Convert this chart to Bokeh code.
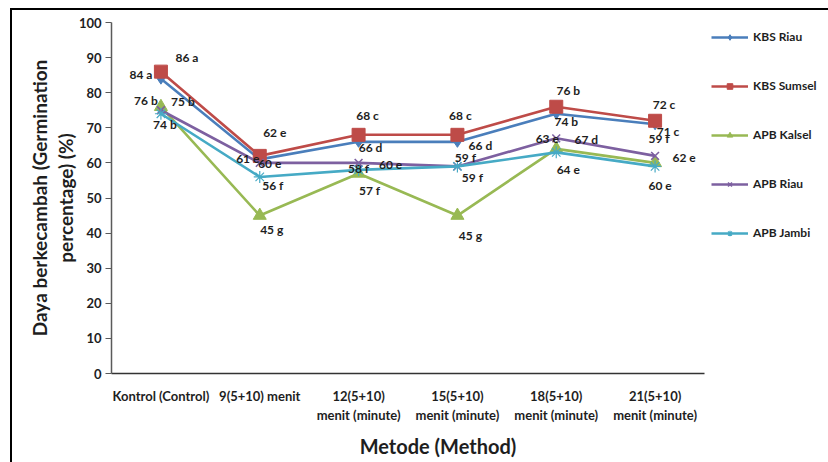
from bokeh.plotting import figure
from bokeh.models import (Range1d, Legend, LegendItem, ColumnDataSource, FixedTicker,
                          LinearAxis)
from bokeh.embed import file_html
from bokeh.resources import INLINE
from bokeh.core.properties import value

# ---------------- data ----------------
categories = ["Kontrol (Control)", "9(5+10) menit", "12(5+10)\nmenit (minute)",
              "15(5+10)\nmenit (minute)", "18(5+10)\nmenit (minute)", "21(5+10)\nmenit (minute)"]
series_names = ["KBS Riau", "KBS Sumsel", "APB Kalsel", "APB Riau", "APB Jambi"]

kbs_riau = [84, 61, 66, 66, 74, 71]
kbs_riau_letters = ["a", "e", "d", "d", "b", "c"]
kbs_sumsel = [86, 62, 68, 68, 76, 72]
kbs_sumsel_letters = ["a", "e", "c", "c", "b", "c"]
apb_kalsel = [76, 45, 57, 45, 64, 60]
apb_kalsel_letters = ["b", "g", "f", "g", "e", "e"]
apb_riau = [75, 60, 60, 59, 67, 62]
apb_riau_letters = ["b", "e", "e", "f", "d", "e"]
apb_jambi = [74, 56, 58, 59, 63, 59]
apb_jambi_letters = ["b", "f", "f", "f", "e", "f"]

y_ticks = [0, 10, 20, 30, 40, 50, 60, 70, 80, 90, 100]
y_title_line1 = "Daya berkecambah (Germination"
y_title_line2 = "percentage) (%)"
x_title = "Metode (Method)"

# ---------------- styles / placement ----------------
FONT = "Lato"
TXT = "#1e1e1e"
colors = ["#4A7EBB", "#BE4B48", "#98B954", "#7D60A0", "#46AAC5"]
markers = ["diamond", "square", "triangle", "x", "asterisk"]
msizes = [11, 13, 13, 11, 12]
mlw = [1, 1, 1, 1.6, 1.2]
# label offsets in screen px (dx right, dy down) per series, per category
label_offsets = [
    [(-20, -4), (-12, -1), (12, 6), (23, 4), (10, 8), (13, 7)],
    [(26, -14), (15, -23), (9, -19), (3, -19), (12, -16), (9, -16)],
    [(-15, -6), (12, 14), (11, 17), (13, 20), (12, 21), (5, 23)],
    [(22, -9), (10, 1), (32, 2), (8, -9), (30, 1), (29, 2)],
    [(4, 11), (13, 9), (0, -1), (15, 11), (-9, -14), (4, -28)],
]
TITLE_SHIFT = "\u2002" * 6   # nudges the centred x title to the right

# ---------------- figure ----------------
n_cat = len(categories)
xs = [i + 0.5 for i in range(n_cat)]   # category centres on the numeric axis

p = figure(frame_width=593, frame_height=351, x_range=Range1d(0, n_cat),
           y_range=Range1d(0, 100), output_backend="svg", toolbar_location=None,
           min_border_left=99, min_border_right=124,
           min_border_top=12, min_border_bottom=89)
p.styles = {"margin-left": "10px", "margin-top": "8px",
            "border-left": "2px solid #000", "border-top": "2px solid #000"}
p.xgrid.visible = False
p.ygrid.visible = False
p.outline_line_color = None
p.background_fill_color = "white"
p.border_fill_color = "white"

# main y axis (ticks + second title line)
p.yaxis.ticker = FixedTicker(ticks=y_ticks)
p.yaxis.axis_line_color = "#5a5a5a"
p.yaxis.axis_line_width = 1.5
p.yaxis.major_tick_line_color = "#5a5a5a"
p.yaxis.major_tick_line_width = 1.2
p.yaxis.major_tick_out = 6
p.yaxis.major_tick_in = 0
p.yaxis.minor_tick_line_color = None
p.yaxis.major_label_text_font = FONT
p.yaxis.major_label_text_font_style = "bold"
p.yaxis.major_label_text_font_size = "13px"
p.yaxis.major_label_text_color = TXT
p.yaxis.major_label_standoff = 4
p.yaxis.axis_label = y_title_line2
p.yaxis.axis_label_text_font = FONT
p.yaxis.axis_label_text_font_style = "bold"
p.yaxis.axis_label_text_font_size = "19px"
p.yaxis.axis_label_text_color = TXT
p.yaxis.axis_label_standoff = -1

# outer (label-only) axis carrying the first title line
title_axis = LinearAxis(ticker=FixedTicker(ticks=[]), axis_label=y_title_line1,
                        axis_line_color=None, major_tick_line_color=None,
                        minor_tick_line_color=None, major_tick_out=0, major_tick_in=0,
                        minor_tick_out=0, minor_tick_in=0, major_label_standoff=0,
                        axis_label_standoff=0, axis_label_text_font=FONT,
                        axis_label_text_font_style="bold", axis_label_text_font_size="19px",
                        axis_label_text_color=TXT)
p.add_layout(title_axis, "left")

p.xaxis.ticker = FixedTicker(ticks=xs)
p.xaxis.major_label_overrides = {x: c for x, c in zip(xs, categories)}
p.xaxis.axis_line_color = "#333333"
p.xaxis.axis_line_width = 1.3
p.xaxis.major_tick_line_color = None
p.xaxis.minor_tick_line_color = None
p.xaxis.major_label_text_font = FONT
p.xaxis.major_label_text_font_style = "bold"
p.xaxis.major_label_text_font_size = "13px"
p.xaxis.major_label_text_color = TXT
p.xaxis.major_label_text_line_height = 1.2
p.xaxis.major_label_standoff = 8
p.xaxis.axis_label = TITLE_SHIFT + x_title
p.xaxis.axis_label_text_font = FONT
p.xaxis.axis_label_text_font_style = "bold"
p.xaxis.axis_label_text_font_size = "20px"
p.xaxis.axis_label_text_color = TXT
p.xaxis.axis_label_standoff = 8

all_values = [kbs_riau, kbs_sumsel, apb_kalsel, apb_riau, apb_jambi]
all_letters = [kbs_riau_letters, kbs_sumsel_letters, apb_kalsel_letters,
               apb_riau_letters, apb_jambi_letters]

items = []
sources = []
for k, name in enumerate(series_names):
    vals = all_values[k]
    src = ColumnDataSource(dict(
        x=xs, y=vals,
        label=[f"{v} {l}" for v, l in zip(vals, all_letters[k])],
        dx=[o[0] for o in label_offsets[k]],
        dy=[o[1] for o in label_offsets[k]],
    ))
    sources.append(src)
    ln = p.line("x", "y", source=src, line_color=colors[k], line_width=2.6)
    sc = p.scatter("x", "y", source=src, marker=markers[k], size=msizes[k],
                   fill_color=colors[k], line_color=colors[k], line_width=mlw[k])
    items.append(LegendItem(label=name, renderers=[ln, sc]))

for src in sources:
    p.text("x", "y", text="label", source=src, x_offset="dx", y_offset="dy",
           text_align="center", text_baseline="middle", text_font=value(FONT),
           text_font_style="bold", text_font_size="12px", text_color=TXT)

legend = Legend(items=items, location="top_left", orientation="vertical",
                margin=7, padding=2, spacing=34, glyph_width=37, glyph_height=14,
                label_height=14, label_standoff=5, label_text_font=FONT,
                label_text_font_style="bold", label_text_font_size="12px",
                label_text_color=TXT, border_line_color=None,
                background_fill_alpha=0)
p.add_layout(legend, "right")

open("out.html", "w").write(file_html(p, INLINE))
